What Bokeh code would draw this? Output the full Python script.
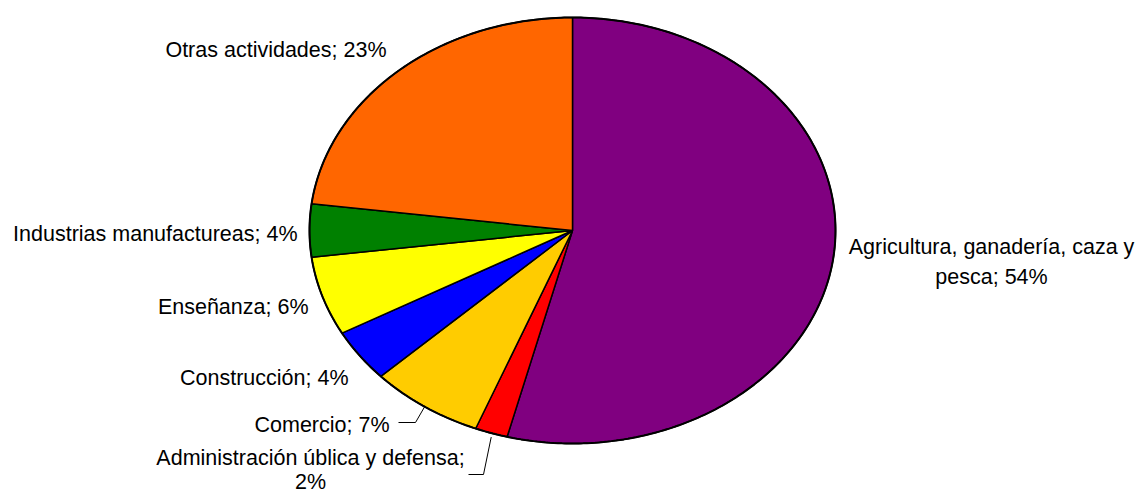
import numpy as np
from bokeh.plotting import figure
from bokeh.models import Range1d
from bokeh.core.properties import value
from bokeh.embed import file_html
from bokeh.resources import INLINE

# ---- data ----
categories = ["Agricultura, ganadería, caza y pesca", "Administración ública y defensa",
              "Comercio", "Construcción", "Enseñanza", "Industrias manufactureas",
              "Otras actividades"]
shares = [54, 2, 7, 4, 6, 4, 23]
colors = ["#800080", "#FF0000", "#FFCC00", "#0000FF", "#FFFF00", "#008000", "#FF6600"]
labels = ["Agricultura, ganadería, caza y\npesca; 54%",
          "Administración ública y defensa;\n2%",
          "Comercio; 7%", "Construcción; 4%", "Enseñanza; 6%",
          "Industrias manufactureas; 4%", "Otras actividades; 23%"]

W, H = 1140, 494
p = figure(width=W, height=H, output_backend="svg", toolbar_location=None,
           x_range=Range1d(0, W), y_range=Range1d(0, H), min_border=0)
p.axis.visible = False
p.grid.visible = False
p.outline_line_color = None
p.background_fill_color = "white"

cx, cy, rx, ry = 572, 264, 263, 213

def pt(theta_deg):
    t = np.radians(theta_deg)
    return cx + rx * np.sin(t), cy + ry * np.cos(t)

total = sum(shares)
xs, ys, mids = [], [], []
start = 0.0
for s in shares:
    end = start + 360.0 * s / total
    th = np.linspace(start, end, max(8, int(s * 6)))
    px = [cx] + list(cx + rx * np.sin(np.radians(th)))
    py = [cy] + list(cy + ry * np.cos(np.radians(th)))
    xs.append(px)
    ys.append(py)
    mids.append((start + end) / 2)
    start = end

p.patches(xs, ys, fill_color=colors, line_color="black", line_width=1.5)
# slightly heavier outer rim
th = np.linspace(0, 360, 400)
p.line(cx + rx * np.sin(np.radians(th)), cy + ry * np.cos(np.radians(th)),
       line_color="black", line_width=2)

font = value("Liberation Sans")
fs = "21.5px"

def lab(x, y, txt, align, lh=1.2):
    p.text(x=[x], y=[y], text=[txt], text_font=font, text_font_size=fs,
           text_align=align, text_baseline="middle", text_color="black",
           text_line_height=lh)

lab(991, 232.5, labels[0], "center", 1.25)
lab(310, 25, labels[1], "center", 1.0)
lab(389, 70, labels[2], "right")
lab(348, 117, labels[3], "right")
lab(308, 188, labels[4], "right")
lab(297, 261, labels[5], "right")
lab(386, 445, labels[6], "right")

# leader lines
ex, ey = pt(mids[2])
p.line([398, 415, ex], [72, 72, ey], line_color="black", line_width=1)
ex, ey = pt(mids[1])
p.line([468, 483, ex], [20, 20, ey - 4], line_color="black", line_width=1)

open("out.html", "w").write(file_html(p, INLINE))
